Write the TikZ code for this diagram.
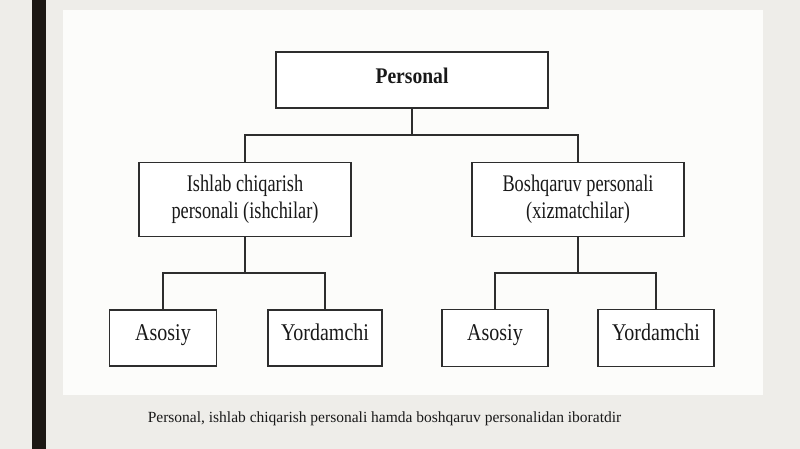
\documentclass[tikz,border=0pt]{standalone}
\usepackage{fontspec}
\usepackage{graphicx}
\setmainfont{Liberation Serif}
\usetikzlibrary{calc}
\definecolor{bgcol}{RGB}{238,237,233}
\definecolor{panelcol}{RGB}{252,252,250}
\definecolor{barcol}{RGB}{28,24,20}
\definecolor{linecol}{RGB}{45,45,45}
\newcommand{\tallA}[1]{\scalebox{1}[1.2]{#1}}
\newcommand{\tallB}[1]{\scalebox{1}[1.3]{#1}}
\newcommand{\tallC}[1]{\scalebox{1}[1.14]{#1}}
\newcommand{\twolines}[2]{\tallB{\begin{tabular}{@{}c@{}}#1\\#2\end{tabular}}}
\tikzset{
  box/.style={draw=linecol, line width=1.8pt, fill=white, inner sep=0pt, align=center, text=black!90},
  midtxt/.style={font=\fontsize{18.3}{20.5}\selectfont},
  leaftxt/.style={font=\fontsize{20}{24}\selectfont, text height=13pt, text depth=9pt},
  conn/.style={draw=linecol, line width=1.6pt}
}
\begin{document}
\begin{tikzpicture}[x=1pt,y=-1pt]
\useasboundingbox (0,0) rectangle (800,449);
\fill[bgcol] (0,0) rectangle (800,449);
\fill[barcol] (32,0) rectangle (46,449);
\fill[panelcol] (63,10) rectangle (763,395);

\node[box, minimum width=272pt, minimum height=56pt, font=\bfseries\fontsize{19.6}{24}\selectfont, text height=12pt, text depth=4.6pt] (P) at (412,80) {\tallC{Personal}};
\node[box, midtxt, minimum width=212pt, minimum height=74pt] (L) at (245,199.5) {\twolines{Ishlab chiqarish}{personali (ishchilar)}};
\node[box, midtxt, minimum width=212pt, minimum height=74pt] (R) at (578,199.5) {\twolines{Boshqaruv personali}{(xizmatchilar)}};
\node[box, leaftxt, minimum width=107pt, minimum height=56pt] (LA) at (163,338) {\tallA{Asosiy}};
\node[box, leaftxt, minimum width=114pt, minimum height=56pt] (LY) at (325,338) {\tallA{Yordamchi}};
\node[box, leaftxt, minimum width=106pt, minimum height=57pt] (RA) at (495,338) {\tallA{Asosiy}};
\node[box, leaftxt, minimum width=116pt, minimum height=57pt] (RY) at (656,338) {\tallA{Yordamchi}};

\coordinate (pj) at ($(P.south)!0.5!(P.south|-L.north)$);
\coordinate (lj) at ($(L.south)!0.5!(L.south|-LA.north)$);
\coordinate (rj) at ($(R.south)!0.5!(R.south|-RA.north)$);

\draw[conn] (P.south) -- (pj);
\draw[conn] (pj) -| (L.north);
\draw[conn] (pj) -| (R.north);
\draw[conn] (L.south) -- (lj);
\draw[conn] (lj) -| (LA.north);
\draw[conn] (lj) -| (LY.north);
\draw[conn] (R.south) -- (rj);
\draw[conn] (rj) -| (RA.north);
\draw[conn] (rj) -| (RY.north);

\node[font=\fontsize{15.5}{18}\selectfont, text=black!90, anchor=base] (cap) at (384.5,422) {Personal, ishlab chiqarish personali hamda boshqaruv personalidan iboratdir};
\end{tikzpicture}
\end{document}
